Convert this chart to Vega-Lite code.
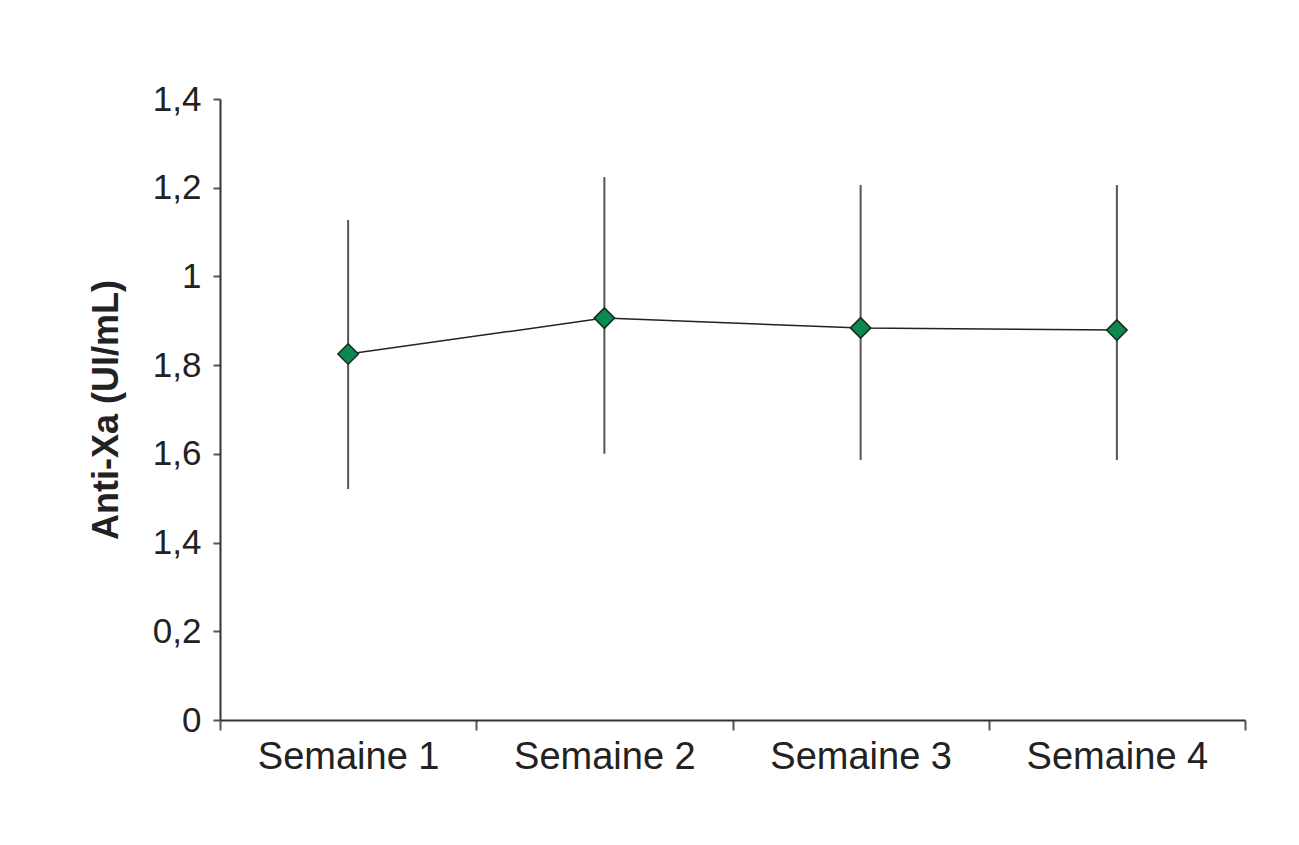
{
  "$schema": "https://vega.github.io/schema/vega-lite/v6.json",
  "autosize": {"type": "none"},
  "width": 1025,
  "height": 621,
  "padding": {"left": 220, "top": 99, "right": 54, "bottom": 125},
  "background": "white",
  "config": {"view": {"stroke": null}, "font": "Liberation Sans"},
  "data": {"values": [
    {"semaine": "Semaine 1", "moyenne": 0.825, "bas": 0.521, "haut": 1.127},
    {"semaine": "Semaine 2", "moyenne": 0.906, "bas": 0.600, "haut": 1.224},
    {"semaine": "Semaine 3", "moyenne": 0.884, "bas": 0.586, "haut": 1.206},
    {"semaine": "Semaine 4", "moyenne": 0.879, "bas": 0.586, "haut": 1.206}
  ]},
  "encoding": {
    "x": {
      "field": "semaine", "type": "nominal",
      "scale": {"type": "band", "paddingInner": 0, "paddingOuter": 0},
      "axis": {
        "title": null, "labelAngle": 0, "labelFontSize": 38, "labelColor": "#222",
        "labelLimit": 400,
        "labelPadding": 8, "tickBand": "extent", "tickSize": 10, "tickColor": "#555",
        "tickWidth": 2, "domainColor": "#333", "domainWidth": 2, "grid": false
      }
    }
  },
  "layer": [
    {
      "mark": {"type": "rule", "color": "#555", "strokeWidth": 2},
      "encoding": {
        "y": {"field": "bas", "type": "quantitative"},
        "y2": {"field": "haut"}
      }
    },
    {
      "mark": {"type": "line", "color": "#222", "strokeWidth": 1.5},
      "encoding": {
        "y": {
          "field": "moyenne", "type": "quantitative",
          "scale": {"domain": [0, 1.4], "nice": false},
          "axis": {
            "title": "Anti-Xa (UI/mL)", "titleFontSize": 36, "titleFontWeight": "bold",
            "titleColor": "#222", "titlePadding": 27,
            "values": [0, 0.2, 0.4, 0.6, 0.8, 1, 1.2, 1.4],
            "labelExpr": "{'0':'0','2':'0,2','4':'1,4','6':'1,6','8':'1,8','10':'1','12':'1,2','14':'1,4'}[''+round(datum.value*10)]",
            "labelFontSize": 35, "labelColor": "#222", "labelPadding": 12,
            "tickSize": 7, "tickColor": "#555", "tickWidth": 2,
            "domainColor": "#333", "domainWidth": 2, "grid": false
          }
        }
      }
    },
    {
      "mark": {"type": "point", "shape": "diamond", "filled": true, "fill": "#0a8a50", "stroke": "#1a2a20", "strokeWidth": 1.5, "size": 420, "opacity": 1},
      "encoding": {
        "y": {"field": "moyenne", "type": "quantitative"}
      }
    }
  ]
}
